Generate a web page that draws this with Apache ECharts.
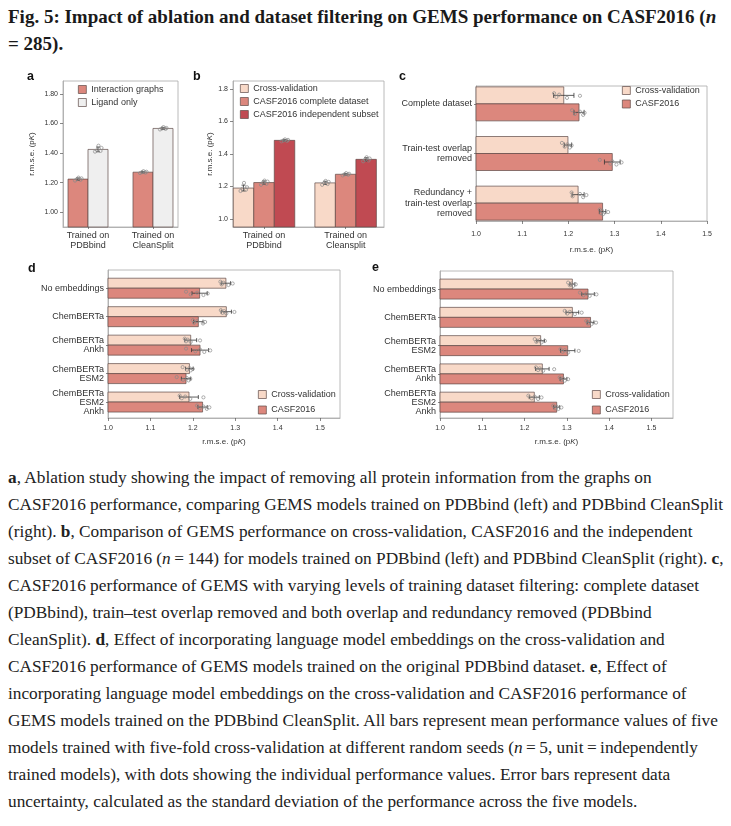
<!DOCTYPE html>
<html><head><meta charset="utf-8">
<script src="https://cdn.jsdelivr.net/npm/echarts@6/dist/echarts.min.js"></script>
<style>
body{margin:0;background:#fff;width:731px;height:826px;overflow:hidden;position:relative;}
#chart{position:absolute;left:0;top:0;width:731px;height:460px;}
#title{position:absolute;left:8px;top:3px;font-family:"Liberation Serif",serif;font-weight:bold;font-size:19px;line-height:27px;color:#1a1a1a;white-space:nowrap;}
#caption{position:absolute;left:8px;top:464px;font-family:"Liberation Serif",serif;font-size:17.3px;line-height:27px;color:#222;white-space:nowrap;}
</style></head><body>
<div id="title">Fig. 5: Impact of ablation and dataset filtering on GEMS performance on CASF2016 (<i>n</i><br>= 285).</div>
<div id="chart"></div>
<div id="caption"><b>a</b>, Ablation study showing the impact of removing all protein information from the graphs on<br>CASF2016 performance, comparing GEMS models trained on PDBbind (left) and PDBbind CleanSplit<br>(right). <b>b</b>, Comparison of GEMS performance on cross-validation, CASF2016 and the independent<br>subset of CASF2016 (<i>n</i>&thinsp;=&thinsp;144) for models trained on PDBbind (left) and PDBbind CleanSplit (right). <b>c</b>,<br>CASF2016 performance of GEMS with varying levels of training dataset filtering: complete dataset<br>(PDBbind), train–test overlap removed and both overlap and redundancy removed (PDBbind<br>CleanSplit). <b>d</b>, Effect of incorporating language model embeddings on the cross-validation and<br>CASF2016 performance of GEMS models trained on the original PDBbind dataset. <b>e</b>, Effect of<br>incorporating language model embeddings on the cross-validation and CASF2016 performance of<br>GEMS models trained on the PDBbind CleanSplit. All bars represent mean performance values of five<br>models trained with five-fold cross-validation at different random seeds (<i>n</i>&thinsp;=&thinsp;5, unit&thinsp;=&thinsp;independently<br>trained models), with dots showing the individual performance values. Error bars represent data<br>uncertainty, calculated as the standard deviation of the performance across the five models.</div>
<script>
// ---------------- DATA ----------------
// Panel a
const catsA = ['Trained on\nPDBbind', 'Trained on\nCleanSplit'];
const namesA = ['Interaction graphs', 'Ligand only'];
const meanA_int = [1.224, 1.271];
const sdA_int = [0.008, 0.005];
const dotsA_int = [[1.214, 1.219, 1.224, 1.229, 1.234], [1.265, 1.268, 1.271, 1.274, 1.278]];
const meanA_lig = [1.425, 1.567];
const sdA_lig = [0.016, 0.007];
const dotsA_lig = [[1.410, 1.415, 1.420, 1.435, 1.450], [1.560, 1.564, 1.567, 1.570, 1.576]];
const ticksA = [1.0, 1.2, 1.4, 1.6, 1.8];

// Panel b
const catsB = ['Trained on\nPDBbind', 'Trained on\nCleansplit'];
const namesB = ['Cross-validation', 'CASF2016 complete dataset', 'CASF2016 independent subset'];
const meanB_cv = [1.190, 1.222];
const sdB_cv = [0.018, 0.010];
const dotsB_cv = [[1.172, 1.180, 1.186, 1.195, 1.222], [1.210, 1.215, 1.222, 1.228, 1.234]];
const meanB_casf = [1.224, 1.275];
const sdB_casf = [0.010, 0.005];
const dotsB_casf = [[1.210, 1.216, 1.224, 1.230, 1.236], [1.268, 1.272, 1.275, 1.278, 1.282]];
const meanB_ind = [1.484, 1.367];
const sdB_ind = [0.005, 0.010];
const dotsB_ind = [[1.478, 1.481, 1.484, 1.487, 1.490], [1.355, 1.360, 1.366, 1.372, 1.380]];
const ticksB = [1.0, 1.2, 1.4, 1.6, 1.8];

// Panel c
const catsC = ['Complete dataset', 'Train-test overlap\nremoved', 'Redundancy +\ntrain-test overlap\nremoved'];
const namesC = ['Cross-validation', 'CASF2016'];
const meanC_cv = [1.190, 1.199, 1.221];
const sdC_cv = [0.022, 0.008, 0.013];
const dotsC_cv = [[1.169, 1.174, 1.180, 1.197, 1.225], [1.186, 1.192, 1.198, 1.203, 1.207], [1.207, 1.209, 1.225, 1.232, 1.239]];
const meanC_casf = [1.223, 1.295, 1.274];
const sdC_casf = [0.011, 0.017, 0.007];
const dotsC_casf = [[1.208, 1.214, 1.225, 1.232, 1.235], [1.268, 1.291, 1.295, 1.304, 1.315], [1.268, 1.271, 1.273, 1.275, 1.286]];
const ticksCDE = [1.0, 1.1, 1.2, 1.3, 1.4, 1.5];

// Panel d
const catsD = ['No embeddings', 'ChemBERTa', 'ChemBERTa\nAnkh', 'ChemBERTa\nESM2', 'ChemBERTa\nESM2\nAnkh'];
const meanD_cv = [1.278, 1.279, 1.195, 1.192, 1.191];
const sdD_cv = [0.011, 0.012, 0.014, 0.009, 0.022];
const dotsD_cv = [[1.265, 1.268, 1.272, 1.284, 1.294], [1.266, 1.270, 1.274, 1.279, 1.298], [1.181, 1.184, 1.188, 1.195, 1.217], [1.176, 1.186, 1.192, 1.195, 1.200], [1.169, 1.174, 1.182, 1.194, 1.225]];
const meanD_casf = [1.216, 1.213, 1.217, 1.184, 1.223];
const sdD_casf = [0.018, 0.011, 0.020, 0.011, 0.011];
const dotsD_casf = [[1.184, 1.195, 1.210, 1.225, 1.235], [1.200, 1.203, 1.210, 1.224, 1.229], [1.184, 1.206, 1.217, 1.227, 1.241], [1.162, 1.177, 1.186, 1.190, 1.194], [1.210, 1.216, 1.225, 1.233, 1.239]];

// Panel e
const catsE = ['No embeddings', 'ChemBERTa', 'ChemBERTa\nESM2', 'ChemBERTa\nAnkh', 'ChemBERTa\nESM2\nAnkh'];
const meanE_cv = [1.313, 1.313, 1.238, 1.242, 1.223];
const sdE_cv = [0.006, 0.015, 0.009, 0.016, 0.012];
const dotsE_cv = [[1.303, 1.307, 1.311, 1.315, 1.321], [1.295, 1.301, 1.307, 1.319, 1.335], [1.224, 1.228, 1.236, 1.240, 1.248], [1.227, 1.232, 1.236, 1.244, 1.270], [1.209, 1.217, 1.224, 1.232, 1.240]];
const meanE_casf = [1.350, 1.356, 1.302, 1.292, 1.276];
const sdE_casf = [0.015, 0.008, 0.017, 0.008, 0.007];
const dotsE_casf = [[1.331, 1.339, 1.346, 1.354, 1.370], [1.346, 1.350, 1.354, 1.358, 1.369], [1.285, 1.290, 1.295, 1.303, 1.328], [1.283, 1.287, 1.291, 1.295, 1.303], [1.268, 1.272, 1.276, 1.280, 1.287]];

// ---------------- STYLE ----------------
const FONT = '"Liberation Sans", Arial, sans-serif';
const TXT = '#333';
const C_CV = '#f8d9c8', C_CASF = '#dc877d', C_IND = '#c04a52', C_LIG = '#efefef';
const EDGE = '#5e4b48';
const FRAME = '#a8a8a8';
const jitV = [-3, 2.5, -1, 3.5, 0.5];
const jitH = [-1.5, 1.2, -0.5, 1.8, 0.3];

function rows(means, sds, dots) { return means.map((m, i) => [i, m, sds[i]].concat(dots[i])); }

function vSeries(name, g, data, sIdx, nS, barW, base, color) {
  return {
    type: 'custom', name, xAxisIndex: g, yAxisIndex: g,
    encode: { x: 0, y: 1 }, data,
    itemStyle: { color, borderColor: EDGE, borderWidth: 0.7 },
    renderItem(p, api) {
      const cat = api.value(0), m = api.value(1), sd = api.value(2);
      const top = api.coord([cat, m]), bot = api.coord([cat, base]);
      const cx = top[0] + (sIdx - (nS - 1) / 2) * barW;
      const e1 = api.coord([cat, m - sd])[1], e2 = api.coord([cat, m + sd])[1];
      const ch = [{ type: 'rect', shape: { x: cx - barW / 2, y: top[1], width: barW, height: bot[1] - top[1] }, style: api.style() },
        { type: 'line', shape: { x1: cx, y1: e1, x2: cx, y2: e2 }, style: { stroke: '#333', lineWidth: 0.8 } },
        { type: 'line', shape: { x1: cx - 2, y1: e1, x2: cx + 2, y2: e1 }, style: { stroke: '#333', lineWidth: 0.8 } },
        { type: 'line', shape: { x1: cx - 2, y1: e2, x2: cx + 2, y2: e2 }, style: { stroke: '#333', lineWidth: 0.8 } }];
      for (let k = 0; k < 5; k++) {
        const pt = api.coord([cat, api.value(3 + k)]);
        ch.push({ type: 'circle', shape: { cx: cx + jitV[k], cy: pt[1], r: 1.6 }, style: { fill: 'none', stroke: '#8a8a8a', lineWidth: 0.7 } });
      }
      return { type: 'group', children: ch };
    }
  };
}
function hSeries(name, g, data, sIdx, nS, barH, base, color) {
  return {
    type: 'custom', name, xAxisIndex: g, yAxisIndex: g,
    encode: { x: 1, y: 0 }, data,
    itemStyle: { color, borderColor: EDGE, borderWidth: 0.7 },
    renderItem(p, api) {
      const cat = api.value(0), m = api.value(1), sd = api.value(2);
      const end = api.coord([m, cat]), st = api.coord([base, cat]);
      const cy = end[1] + (sIdx - (nS - 1) / 2) * barH;
      const e1 = api.coord([m - sd, cat])[0], e2 = api.coord([m + sd, cat])[0];
      const cap = barH > 12 ? 2.5 : 2;
      const ch = [{ type: 'rect', shape: { x: st[0], y: cy - barH / 2, width: end[0] - st[0], height: barH }, style: api.style() },
        { type: 'line', shape: { x1: e1, y1: cy, x2: e2, y2: cy }, style: { stroke: '#333', lineWidth: 0.8 } },
        { type: 'line', shape: { x1: e1, y1: cy - cap, x2: e1, y2: cy + cap }, style: { stroke: '#333', lineWidth: 0.8 } },
        { type: 'line', shape: { x1: e2, y1: cy - cap, x2: e2, y2: cy + cap }, style: { stroke: '#333', lineWidth: 0.8 } }];
      for (let k = 0; k < 5; k++) {
        const pt = api.coord([api.value(3 + k), cat]);
        ch.push({ type: 'circle', shape: { cx: pt[0], cy: cy + jitH[k] * (barH > 12 ? 1.4 : 1), r: 1.6 }, style: { fill: 'none', stroke: '#8a8a8a', lineWidth: 0.7 } });
      }
      return { type: 'group', children: ch };
    }
  };
}

const grids = [
  { left: 63, top: 81, width: 115, height: 146 },
  { left: 233, top: 81, width: 151, height: 146 },
  { left: 476, top: 86, width: 231, height: 135 },
  { left: 108, top: 270, width: 232, height: 148 },
  { left: 440, top: 271, width: 233, height: 147 }
].map(g => Object.assign({ show: true, borderColor: FRAME, borderWidth: 0.8, backgroundColor: 'transparent', containLabel: false }, g));

const axLine = { show: true, onZero: false, lineStyle: { color: FRAME, width: 0.8 } };
const tick = (vals, len) => ({ show: true, customValues: vals, length: len, lineStyle: { color: '#555', width: 0.7 } });
const rmse = { name: 'r.m.s.e. (p{k|K})', nameTextStyle: { fontSize: 8, color: TXT, fontFamily: FONT, rich: { k: { fontSize: 8, fontStyle: 'italic', color: TXT, fontFamily: FONT } } } };

function valAxis(g, min, max, ticks, dec, extra, lbl) {
  return Object.assign({
    type: 'value', gridIndex: g, min, max, splitLine: { show: false }, axisLine: axLine,
    axisTick: tick(ticks, 3),
    axisLabel: Object.assign({ customValues: ticks, formatter: v => v.toFixed(dec), fontSize: 7, color: TXT, fontFamily: FONT, margin: 5 }, lbl)
  }, rmse, extra);
}
function posAxis(g, min, max, cats, extra, lbl) {
  const vals = cats.map((c, i) => i);
  return Object.assign({
    type: 'value', gridIndex: g, min, max, splitLine: { show: false }, axisLine: axLine,
    axisTick: tick(vals, 2),
    axisLabel: Object.assign({ customValues: vals, formatter: v => cats[Math.round(v)], fontSize: 9, color: TXT, fontFamily: FONT }, lbl)
  }, extra);
}

const xAxis = [
  posAxis(0, -0.385, 1.385, catsA, {}, { margin: 4, lineHeight: 10 }),
  posAxis(1, -0.38, 1.47, catsB, {}, { margin: 4, lineHeight: 10 }),
  valAxis(2, 1.0, 1.5, ticksCDE, 1, { nameLocation: 'middle', nameGap: 25 }, { margin: 10 }),
  valAxis(3, 1.0, 1.547, ticksCDE, 1, { nameLocation: 'middle', nameGap: 20 }, { margin: 7 }),
  valAxis(4, 1.0, 1.551, ticksCDE, 1, { nameLocation: 'middle', nameGap: 20 }, { margin: 7 })
];
const yAxis = [
  valAxis(0, 0.9, 1.888, ticksA, 2, { nameLocation: 'middle', nameGap: 27 }),
  valAxis(1, 0.95, 1.85, ticksB, 1, { nameLocation: 'middle', nameGap: 19 }),
  posAxis(2, -0.36, 2.36, catsC, { inverse: true }, { margin: 4, lineHeight: 10.5 }),
  posAxis(3, -0.64, 4.56, catsD, { inverse: true }, { margin: 4, lineHeight: 9 }),
  posAxis(4, -0.64, 4.56, catsE, { inverse: true }, { margin: 4, lineHeight: 9 })
];

const series = [
  vSeries(namesA[0], 0, rows(meanA_int, sdA_int, dotsA_int), 0, 2, 20, 0.9, C_CASF),
  vSeries(namesA[1], 0, rows(meanA_lig, sdA_lig, dotsA_lig), 1, 2, 20, 0.9, C_LIG),
  vSeries(namesB[0], 1, rows(meanB_cv, sdB_cv, dotsB_cv), 0, 3, 20.5, 0.95, C_CV),
  vSeries(namesB[1], 1, rows(meanB_casf, sdB_casf, dotsB_casf), 1, 3, 20.5, 0.95, C_CASF),
  vSeries(namesB[2], 1, rows(meanB_ind, sdB_ind, dotsB_ind), 2, 3, 20.5, 0.95, C_IND),
  hSeries(namesC[0], 2, rows(meanC_cv, sdC_cv, dotsC_cv), 0, 2, 17, 1.0, C_CV),
  hSeries(namesC[1], 2, rows(meanC_casf, sdC_casf, dotsC_casf), 1, 2, 17, 1.0, C_CASF),
  hSeries(namesC[0], 3, rows(meanD_cv, sdD_cv, dotsD_cv), 0, 2, 10, 1.0, C_CV),
  hSeries(namesC[1], 3, rows(meanD_casf, sdD_casf, dotsD_casf), 1, 2, 10, 1.0, C_CASF),
  hSeries(namesC[0], 4, rows(meanE_cv, sdE_cv, dotsE_cv), 0, 2, 10, 1.0, C_CV),
  hSeries(namesC[1], 4, rows(meanE_casf, sdE_casf, dotsE_casf), 1, 2, 10, 1.0, C_CASF)
];

const colorOf = { 'Interaction graphs': C_CASF, 'Ligand only': C_LIG, 'Cross-validation': C_CV, 'CASF2016 complete dataset': C_CASF, 'CASF2016 independent subset': C_IND, 'CASF2016': C_CASF };
function legend(names, left, top, gap) {
  return {
    data: names.map(n => ({ name: n, itemStyle: { color: colorOf[n], borderColor: EDGE, borderWidth: 0.7 } })),
    left, top, padding: 0, orient: 'vertical', icon: 'rect', itemWidth: 8, itemHeight: 8, itemGap: gap, selectedMode: false,
    textStyle: { fontSize: 9, color: TXT, fontFamily: FONT }
  };
}

const letters = [['a', 27, 70], ['b', 193, 70], ['c', 399, 70], ['d', 28, 262], ['e', 372, 261]];

const option = {
  animation: false,
  textStyle: { fontFamily: FONT },
  title: letters.map(l => ({ text: l[0], left: l[1], top: l[2], padding: 0, textStyle: { fontSize: 12.5, fontWeight: 'bold', color: '#111', fontFamily: FONT } })),
  grid: grids, xAxis, yAxis, series,
  legend: [
    legend(namesA, 78, 85, 4),
    legend(namesB, 240, 84, 4),
    legend(namesC, 622, 86, 4.5),
    legend(namesC, 258, 390, 6.5),
    legend(namesC, 592, 390, 6.5)
  ]
};
const chart = echarts.init(document.getElementById('chart'), null, { renderer: 'canvas' });
chart.setOption(option);
</script>
</body></html>
